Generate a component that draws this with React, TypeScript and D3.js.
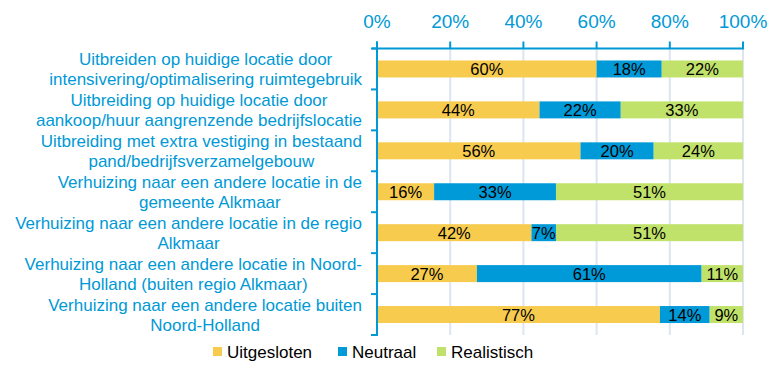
import React from 'react';
import * as d3 from 'd3';

const categories = [
    'Uitbreiden op huidige locatie door\nintensivering/optimalisering ruimtegebruik',
    'Uitbreiding op huidige locatie door\naankoop/huur aangrenzende bedrijfslocatie',
    'Uitbreiding met extra vestiging in bestaand\npand/bedrijfsverzamelgebouw',
    'Verhuizing naar een andere locatie in de\ngemeente Alkmaar',
    'Verhuizing naar een andere locatie in de regio\nAlkmaar',
    'Verhuizing naar een andere locatie in Noord-\nHolland (buiten regio Alkmaar)',
    'Verhuizing naar een andere locatie buiten\nNoord-Holland',
];
const seriesNames = ['Uitgesloten', 'Neutraal', 'Realistisch'];
const uitgesloten = [60.0, 44.4, 55.6, 15.6, 42.2, 27.3, 77.3];
const neutraal = [17.8, 22.2, 20.0, 33.3, 6.7, 61.4, 13.6];
const realistisch = [22.2, 33.4, 24.4, 51.1, 51.1, 11.3, 9.1];
const xTicks = [0, 20, 40, 60, 80, 100];

const colors = ['#F7CB4D', '#009AD8', '#C1E26A'];
const BLUE = '#0099D6';
const FONT = "'Liberation Sans', Arial, sans-serif";

// measure text width so that each label block can be right-aligned with centred lines
let ctx: CanvasRenderingContext2D | null = null;
const measure = (s: string, size: number) => {
    if (!ctx) ctx = document.createElement('canvas').getContext('2d');
    if (!ctx) return s.length * size * 0.5;
    ctx.font = `${size}px ${FONT}`;
    return ctx.measureText(s).width;
};

const App = () => {
    const width = 779;
    const height = 370;
    const left = 377, right = 743, top = 48.5, bottom = 335;
    const labelRight = 362;

    const x = d3.scaleLinear().domain([0, 100]).range([left, right]);
    const y = d3.scaleBand<number>()
        .domain(categories.map((_, i) => i))
        .range([top, bottom])
        .paddingInner(0.585)
        .paddingOuter(0.2925);
    const yOuter = d3.scaleBand<number>().domain(categories.map((_, i) => i)).range([top, bottom]);

    const rows = categories.map((c, i) => ({ uitgesloten: uitgesloten[i], neutraal: neutraal[i], realistisch: realistisch[i] }));
    const stack = d3.stack<any>().keys(['uitgesloten', 'neutraal', 'realistisch'])(rows);

    const boundaries = d3.range(categories.length + 1).map(i => top + i * yOuter.step());
    const legendX = [213, 338, 437];

    return (
        <div style={{ position: 'fixed', left: 0, top: 0 }}>
            <svg width={width} height={height} style={{ display: 'block', background: '#fff' }} fontFamily={FONT}>
                {/* grid */}
                {xTicks.slice(1).map(t => (
                    <line key={'g' + t} x1={x(t)} x2={x(t)} y1={top} y2={bottom} stroke="#DCE5F1" strokeWidth={2} />
                ))}
                {/* bars */}
                {stack.map((s, si) => s.map((d, i) => (
                    <rect key={si + '-' + i} x={x(d[0])} y={y(i)} width={x(d[1]) - x(d[0])} height={y.bandwidth()} fill={colors[si]} />
                )))}
                {stack.map((s, si) => s.map((d, i) => (
                    <text key={'t' + si + '-' + i} x={(x(d[0]) + x(d[1])) / 2} y={(y(i) as number) + y.bandwidth() / 2 + 6}
                        textAnchor="middle" fontSize={16.5} fill="#000">{Math.round(d[1] - d[0])}%</text>
                )))}
                {/* top axis */}
                <line x1={372} x2={x(100) + 1} y1={top} y2={top} stroke={BLUE} strokeWidth={2} />
                {xTicks.map(t => (
                    <g key={'x' + t}>
                        <line x1={x(t)} x2={x(t)} y1={41.5} y2={top} stroke={BLUE} strokeWidth={2} />
                        <text x={x(t)} y={28} textAnchor="middle" fontSize={19} fill={BLUE}>{t}%</text>
                    </g>
                ))}
                {/* left axis */}
                <line x1={left} x2={left} y1={41.5} y2={bottom + 1} stroke={BLUE} strokeWidth={2} />
                {boundaries.map((b, i) => (
                    <line key={'b' + i} x1={371} x2={left} y1={b} y2={b} stroke={BLUE} strokeWidth={2} />
                ))}
                {/* category labels */}
                {categories.map((c, i) => {
                    const lines = c.split('\n');
                    const cy = (yOuter(i) as number) + yOuter.bandwidth() / 2;
                    const w = d3.max(lines, l => measure(l, 17)) as number;
                    const cx = labelRight - w / 2;
                    return (
                        <text key={'c' + i} fontSize={17} fill={BLUE} textAnchor="middle">
                            {lines.map((l, li) => (
                                <tspan key={li} x={cx} y={cy - 10 * (lines.length - 1) + li * 20 + 6}>{l}</tspan>
                            ))}
                        </text>
                    );
                })}
                {/* legend */}
                {seriesNames.map((n, i) => (
                    <g key={'l' + n} transform={`translate(${legendX[i]},352)`}>
                        <rect x={0} y={-5} width={9} height={9} fill={colors[i]} />
                        <text x={14} y={6} fontSize={17} fill="#000">{n}</text>
                    </g>
                ))}
            </svg>
        </div>
    );
};

export default App;
